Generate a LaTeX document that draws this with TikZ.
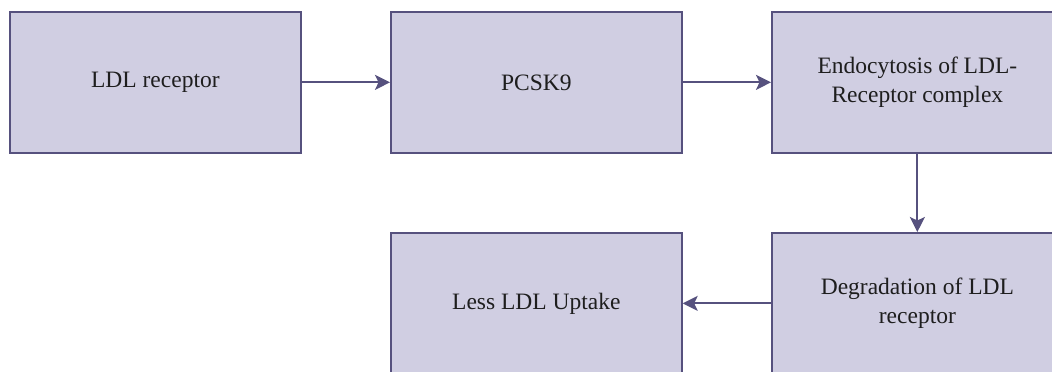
\documentclass[tikz,border=0pt]{standalone}
\usepackage{fontspec}
\setmainfont{Liberation Serif}
\newfontfamily\boxfont{Liberation Serif}
\usetikzlibrary{arrows.meta}
\definecolor{boxfill}{HTML}{D0CEE2}
\definecolor{boxline}{HTML}{56517E}
\definecolor{txt}{HTML}{1E1E1E}
\tikzset{
  flowbox/.style={draw=boxline, fill=boxfill, line width=1.7pt, minimum width=291pt, minimum height=141pt, inner sep=0pt, align=center, font=\boxfont\fontsize{23.5}{28.5}\selectfont, text=txt, anchor=north west},
  flowarrow/.style={draw=boxline, line width=1.8pt, -{Stealth[length=15pt, width=15pt, inset=3.5pt]}}
}
\begin{document}
\begin{tikzpicture}[x=1pt,y=-1pt]
\useasboundingbox (0,0) rectangle (1052,372);
\node[flowbox] (a) at (9,11) {LDL receptor};
\node[flowbox] (b) at (390,11) {PCSK9};
\node[flowbox] (c) at (771,11) {Endocytosis of LDL-\\Receptor complex};
\node[flowbox] (d) at (771,232) {Degradation of LDL\\receptor};
\node[flowbox] (e) at (390,232) {Less LDL Uptake};
\draw[flowarrow] (a) -- (b);
\draw[flowarrow] (b) -- (c);
\draw[flowarrow] (c) -- (d);
\draw[flowarrow] (d) -- (e);
\end{tikzpicture}
\end{document}
